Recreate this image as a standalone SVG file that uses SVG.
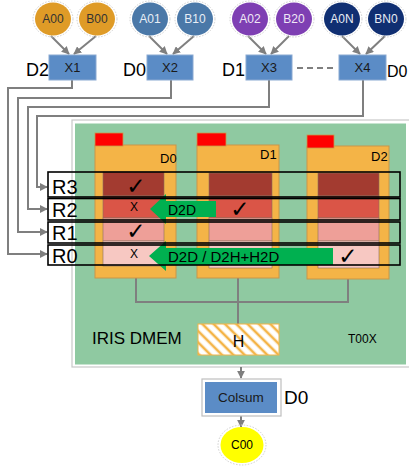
<svg xmlns="http://www.w3.org/2000/svg" width="409" height="470" viewBox="0 0 409 470">
<defs>
<style>
text{font-family:"Liberation Sans",Arial,sans-serif;}
.ln{stroke:#7f7f7f;stroke-width:2;fill:none;}
.ring{fill:none;stroke:#cfcfcf;stroke-width:1;stroke-dasharray:1.5 1.5;}
.xb{fill:#5b8cc6;stroke:#8aa9d2;stroke-width:1;}
.ct{font-size:12px;text-anchor:middle;}
.xt{font-size:13px;text-anchor:middle;fill:#1a1a1a;}
.dl{font-size:18px;fill:#000;}
.ob{fill:#f4b447;stroke:#c9964a;stroke-width:1;}
.tab{fill:#ff0000;stroke:#c9964a;stroke-width:0.8;}
.row{fill:none;stroke:#000;stroke-width:1.6;}
.rl{font-size:20px;fill:#000;}
.ck{font-family:"DejaVu Sans",sans-serif;font-size:23px;text-anchor:middle;fill:#000;}
.xm{font-size:12px;text-anchor:middle;fill:#000;}
.r3{fill:#a33b30;}
.r2{fill:#da5547;}
.r1{fill:#ee9f98;}
.r0{fill:#f7c8c2;}
.cell{stroke:#8a7060;stroke-width:0.6;}
.ga{fill:#00b050;}
</style>
<marker id="ah" viewBox="0 0 10 10" refX="9" refY="5" markerWidth="4" markerHeight="4" orient="auto-start-reverse">
<path d="M0,0 L10,5 L0,10 z" fill="#7f7f7f"/>
</marker>
<pattern id="hatch" width="8" height="8" patternUnits="userSpaceOnUse" patternTransform="rotate(-45)">
<rect width="8" height="8" fill="#ffffff"/>
<line x1="2" y1="0" x2="2" y2="8" stroke="#f4b447" stroke-width="2.6"/>
</pattern>
</defs>
<rect width="409" height="470" fill="#ffffff"/>

<!-- Container -->
<g id="container">
<rect x="72" y="120" width="345" height="247" fill="#ffffff" stroke="#c8c8c8" stroke-width="1.2"/>
<rect x="75" y="123.5" width="331" height="241" fill="#8fc9a1"/>
<text x="92" y="344" font-size="17">IRIS DMEM</text>
<text x="348" y="343" font-size="12">T00X</text>
</g>

<!-- Connectors -->
<g id="connectors">
<line class="ln" x1="51" y1="36" x2="69" y2="54" marker-end="url(#ah)"/>
<line class="ln" x1="96" y1="36" x2="74" y2="54" marker-end="url(#ah)"/>
<line class="ln" x1="149" y1="36" x2="167" y2="54" marker-end="url(#ah)"/>
<line class="ln" x1="194" y1="36" x2="173" y2="54" marker-end="url(#ah)"/>
<line class="ln" x1="248" y1="36" x2="266" y2="54" marker-end="url(#ah)"/>
<line class="ln" x1="289" y1="36" x2="271" y2="54" marker-end="url(#ah)"/>
<line class="ln" x1="342" y1="36" x2="360" y2="54" marker-end="url(#ah)"/>
<line class="ln" x1="385" y1="36" x2="366" y2="54" marker-end="url(#ah)"/>
<line x1="297" y1="68" x2="336" y2="68" stroke="#7f7f7f" stroke-width="2" stroke-dasharray="6 4"/>
<polyline class="ln" points="72,80 72,88 8,88 8,254 47,254" marker-end="url(#ah)"/>
<polyline class="ln" points="171,80 171,98 18,98 18,232 47,232" marker-end="url(#ah)"/>
<polyline class="ln" points="269,80 269,107 28,107 28,209 47,209" marker-end="url(#ah)"/>
<polyline class="ln" points="363,80 363,116 37,116 37,187 47,187" marker-end="url(#ah)"/>
<polyline class="ln" points="136,278 136,302 348,302 348,279"/>
<line class="ln" x1="238" y1="278" x2="238" y2="324"/>
<line class="ln" x1="241" y1="367" x2="241" y2="378" marker-end="url(#ah)"/>
<line class="ln" x1="241" y1="416" x2="241" y2="427" marker-end="url(#ah)"/>
</g>

<!-- Input circles -->
<g id="A00"><ellipse cx="53" cy="19" rx="20" ry="18" class="ring"/><ellipse cx="53" cy="19" rx="18" ry="16.5" fill="#df9b27"/><text x="53" y="23" class="ct" fill="#333">A00</text></g>
<g id="B00"><ellipse cx="97" cy="19" rx="20" ry="18" class="ring"/><ellipse cx="97" cy="19" rx="18" ry="16.5" fill="#df9b27"/><text x="97" y="23" class="ct" fill="#333">B00</text></g>
<g id="A01"><ellipse cx="150" cy="19" rx="20" ry="18" class="ring"/><ellipse cx="150" cy="19" rx="18" ry="16.5" fill="#4a78a8"/><text x="150" y="23" class="ct" fill="#e8eef6">A01</text></g>
<g id="B10"><ellipse cx="195" cy="19" rx="20" ry="18" class="ring"/><ellipse cx="195" cy="19" rx="18" ry="16.5" fill="#4a78a8"/><text x="195" y="23" class="ct" fill="#e8eef6">B10</text></g>
<g id="A02"><ellipse cx="250" cy="19" rx="20" ry="18" class="ring"/><ellipse cx="250" cy="19" rx="18" ry="16.5" fill="#7e3fb3"/><text x="250" y="23" class="ct" fill="#f0e8f6">A02</text></g>
<g id="B20"><ellipse cx="294" cy="19" rx="20" ry="18" class="ring"/><ellipse cx="294" cy="19" rx="18" ry="16.5" fill="#7e3fb3"/><text x="294" y="23" class="ct" fill="#f0e8f6">B20</text></g>
<g id="A0N"><ellipse cx="342" cy="19" rx="20" ry="18" class="ring"/><ellipse cx="342" cy="19" rx="18" ry="16.5" fill="#102f72"/><text x="342" y="23" class="ct" fill="#e8ecf4">A0N</text></g>
<g id="BN0"><ellipse cx="386" cy="19" rx="20" ry="18" class="ring"/><ellipse cx="386" cy="19" rx="18" ry="16.5" fill="#102f72"/><text x="386" y="23" class="ct" fill="#e8ecf4">BN0</text></g>

<!-- X boxes -->
<g id="X1"><rect class="xb" x="49" y="55" width="47" height="25"/><text x="72.5" y="72" class="xt">X1</text><text x="26" y="76" class="dl">D2</text></g>
<g id="X2"><rect class="xb" x="147" y="55" width="46" height="25"/><text x="170" y="72" class="xt">X2</text><text x="123" y="76" class="dl">D0</text></g>
<g id="X3"><rect class="xb" x="246" y="55" width="46" height="25"/><text x="269" y="72" class="xt">X3</text><text x="222" y="76" class="dl">D1</text></g>
<g id="X4"><rect class="xb" x="339" y="55" width="47" height="25"/><text x="362.5" y="72" class="xt">X4</text><text x="387" y="77" font-size="16">D0</text></g>

<!-- Devices -->
<g id="D0">
<rect class="ob" x="95" y="145" width="81" height="133"/>
<rect class="tab" x="95" y="133" width="28" height="13"/>
<text x="160" y="163" font-size="13">D0</text>
<rect class="r3 cell" x="103" y="172" width="61" height="24"/>
<rect class="r2 cell" x="103" y="196" width="61" height="22"/>
<rect class="r1 cell" x="103" y="218" width="61" height="23"/>
<rect class="r0 cell" x="103" y="241" width="61" height="25"/>
</g>
<g id="D1">
<rect class="ob" x="197" y="145" width="82" height="133"/>
<rect class="tab" x="197" y="133" width="29" height="13"/>
<text x="260" y="159" font-size="13">D1</text>
<rect class="r3 cell" x="209" y="173" width="63" height="23"/>
<rect class="r2 cell" x="209" y="196" width="63" height="22"/>
<rect class="r1 cell" x="209" y="218" width="63" height="23"/>
<rect class="r0 cell" x="209" y="241" width="63" height="27"/>
</g>
<g id="D2">
<rect class="ob" x="307" y="146" width="82" height="133"/>
<rect class="tab" x="307" y="135" width="27" height="13"/>
<text x="371" y="161" font-size="13">D2</text>
<rect class="r3 cell" x="318" y="173" width="61" height="23"/>
<rect class="r2 cell" x="318" y="196" width="61" height="22"/>
<rect class="r1 cell" x="318" y="218" width="61" height="23"/>
<rect class="r0 cell" x="318" y="241" width="61" height="27"/>
</g>

<!-- Transfer arrows -->
<g id="arrow-d2d">
<polygon class="ga" points="150,209 166,194 166,201 216,201 216,217 166,217 166,224"/>
<text x="168" y="215" font-size="14" fill="#000">D2D</text>
</g>
<g id="arrow-d2h">
<polygon class="ga" points="149,256 166,241 166,248 333,248 333,265 166,265 166,271"/>
<text x="168" y="262" font-size="15" fill="#000">D2D / D2H+H2D</text>
</g>

<!-- Marks -->
<g id="marks">
<text x="136" y="194" class="ck">✓</text>
<text x="134" y="211" class="xm">X</text>
<text x="136" y="239" class="ck">✓</text>
<text x="134" y="258" class="xm">X</text>
<text x="240" y="217" class="ck">✓</text>
<text x="348" y="264" class="ck">✓</text>
</g>

<!-- Row registers -->
<g id="R3"><rect class="row" x="48" y="172" width="352" height="25"/><text x="52" y="194" class="rl">R3</text></g>
<g id="R2"><rect class="row" x="48" y="198.5" width="352" height="21.5"/><text x="52" y="217" class="rl">R2</text></g>
<g id="R1"><rect class="row" x="48" y="222" width="352" height="21"/><text x="52" y="240" class="rl">R1</text></g>
<g id="R0"><rect class="row" x="48" y="245" width="352" height="20"/><text x="52" y="263" class="rl">R0</text></g>

<!-- Host buffer -->
<g id="H">
<rect x="198" y="324" width="81" height="31" fill="url(#hatch)" stroke="#f4b447" stroke-width="1"/>
<text x="238.5" y="347" font-size="16" text-anchor="middle">H</text>
</g>

<!-- Colsum -->
<g id="Colsum">
<rect x="202" y="379" width="79" height="37" fill="#ffffff" stroke="#bfbfbf" stroke-width="1.2"/>
<rect x="205" y="382" width="72" height="31" fill="#5b8cc6"/>
<text x="241" y="402" font-size="13.5" text-anchor="middle" fill="#1a1a1a">Colsum</text>
<text x="284" y="404" font-size="19">D0</text>
</g>

<!-- Output -->
<g id="C00">
<ellipse cx="242" cy="445" rx="24" ry="20" class="ring"/>
<ellipse cx="242" cy="445" rx="21.5" ry="18" fill="#ffff00"/>
<text x="242" y="449" class="ct" fill="#000">C00</text>
</g>
</svg>
